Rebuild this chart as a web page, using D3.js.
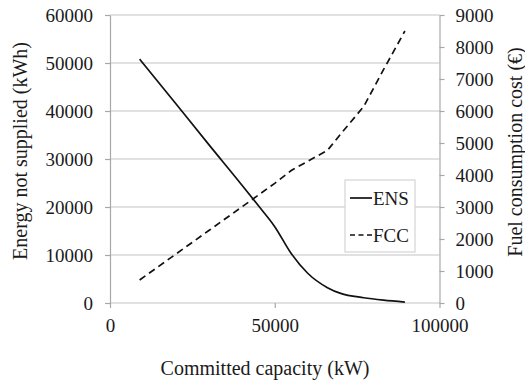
<!DOCTYPE html>
<html>
<head>
<meta charset="utf-8">
<script src="https://cdn.jsdelivr.net/npm/d3@7"></script>
<style>
  body { margin: 0; background: #fff; }
</style>
</head>
<body>
<svg id="chart"></svg>
<script>
// committed capacity (kW) and the two series
const capacity = [9000, 20000, 30000, 40000, 45000, 50000, 55000, 60000, 66000, 70000, 77000, 83000, 89500];
const ens = [50800, 41500, 33000, 24600, 20300, 15900, 10300, 6200, 3200, 2000, 1100, 600, 200];
const fcc = [720, 1530, 2265, 3000, 3370, 3740, 4140, 4430, 4770, 5280, 6140, 7290, 8500];

const xTicks = [0, 50000, 100000];
const leftTicks = [0, 10000, 20000, 30000, 40000, 50000, 60000];
const rightTicks = [0, 1000, 2000, 3000, 4000, 5000, 6000, 7000, 8000, 9000];

const W = 525, H = 383;
const mLeft = 110, mRight = 439.5, mTop = 15, mBottom = 303;
const FONT = '"Liberation Serif", Tinos, FreeSerif';

const svg = d3.select('#chart')
    .attr('width', W)
    .attr('height', H);

const x = d3.scaleLinear().domain([0, 100000]).range([mLeft, mRight]);
const yL = d3.scaleLinear().domain([0, 60000]).range([mBottom, mTop]);
const yR = d3.scaleLinear().domain([0, 9000]).range([mBottom, mTop]);

// gridlines
svg.append('g')
    .selectAll('line')
    .data(leftTicks)
    .join('line')
    .attr('x1', mLeft).attr('x2', mRight)
    .attr('y1', d => yL(d)).attr('y2', d => yL(d))
    .attr('stroke', '#c4c4c4')
    .attr('stroke-width', 1.2);

const fmt = d3.format('d');

const styleAxis = g => {
    g.attr('font-family', null).attr('font-size', null);
    g.select('.domain').attr('stroke', '#a8a8a8').attr('stroke-width', 1.2);
    g.selectAll('.tick line').attr('stroke', '#a8a8a8').attr('stroke-width', 1.2);
    g.selectAll('.tick text')
        .style('font-family', FONT)
        .style('font-size', '19px')
        .attr('fill', '#1a1a1a');
};

svg.append('g')
    .attr('transform', `translate(${mLeft},0)`)
    .call(d3.axisLeft(yL).tickValues(leftTicks).tickFormat(fmt).tickSize(5).tickSizeOuter(0).tickPadding(12))
    .call(styleAxis);

svg.append('g')
    .attr('transform', `translate(${mRight},0)`)
    .call(d3.axisRight(yR).tickValues(rightTicks).tickFormat(fmt).tickSize(5).tickSizeOuter(0).tickPadding(11))
    .call(styleAxis);

svg.append('g')
    .attr('transform', `translate(0,${mBottom})`)
    .call(d3.axisBottom(x).tickValues(xTicks).tickFormat(fmt).tickSize(5).tickSizeOuter(0).tickPadding(11))
    .call(styleAxis)
    .call(g => g.select('.domain').remove());

// series
const ensLine = d3.line()
    .x((d, i) => x(capacity[i]))
    .y(d => yL(d))
    .curve(d3.curveMonotoneX);

const fccLine = d3.line()
    .x((d, i) => x(capacity[i]))
    .y(d => yR(d));

svg.append('path')
    .datum(fcc)
    .attr('d', fccLine)
    .attr('fill', 'none')
    .attr('stroke', '#111')
    .attr('stroke-width', 1.7)
    .attr('stroke-dasharray', '7,4.5');

svg.append('path')
    .datum(ens)
    .attr('d', ensLine)
    .attr('fill', 'none')
    .attr('stroke', '#111')
    .attr('stroke-width', 1.7);

// axis titles
const title = (tr, s) => svg.append('text')
    .attr('transform', tr)
    .attr('text-anchor', 'middle')
    .attr('fill', '#1a1a1a')
    .style('font-family', FONT)
    .style('font-size', '20px')
    .text(s);

title('translate(265,375)', 'Committed capacity (kW)');
title('translate(27,151) rotate(-90)', 'Energy not supplied (kWh)');
title('translate(522,152) rotate(-90)', 'Fuel consumption cost (€)');

// legend
const legend = svg.append('g').attr('transform', 'translate(345,180)');
legend.append('rect')
    .attr('width', 70).attr('height', 72)
    .attr('fill', '#fff')
    .attr('stroke', '#d4d4d4')
    .attr('stroke-width', 1.2);

const items = [
    {name: 'ENS', dash: null, y: 18},
    {name: 'FCC', dash: '5,3.5', y: 55}
];
const li = legend.selectAll('g.item')
    .data(items)
    .join('g')
    .attr('class', 'item')
    .attr('transform', d => `translate(0,${d.y})`);
li.append('line')
    .attr('x1', 5).attr('x2', 27)
    .attr('stroke', '#111')
    .attr('stroke-width', 1.7)
    .attr('stroke-dasharray', d => d.dash);
li.append('text')
    .attr('x', 28).attr('y', 7)
    .attr('fill', '#1a1a1a')
    .style('font-family', FONT)
    .style('font-size', '19px')
    .text(d => d.name);
</script>
</body>
</html>
